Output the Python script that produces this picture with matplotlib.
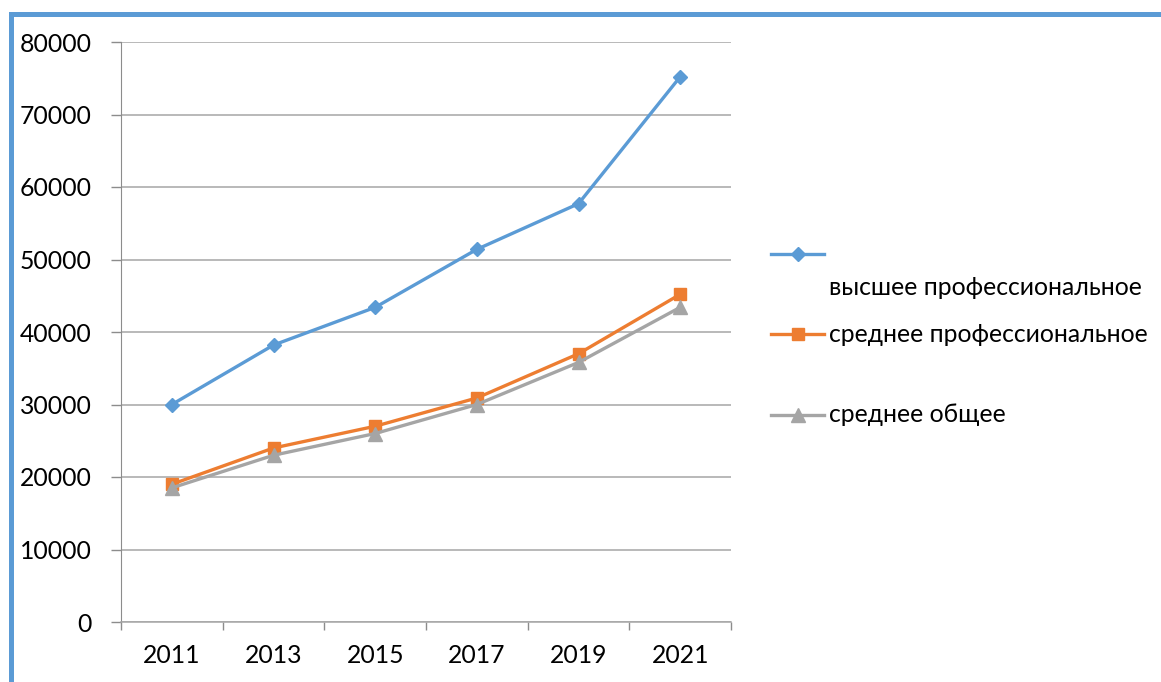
import matplotlib
matplotlib.use("Agg")
import matplotlib.pyplot as plt
from matplotlib.lines import Line2D
import numpy as np

# ── Data ──────────────────────────────────────────────────────────────────────
years = ["2011", "2013", "2015", "2017", "2019", "2021"]
higher_prof = [30000, 38200, 43400, 51400, 57700, 75200]
secondary_prof = [19000, 24000, 27000, 30900, 37000, 45200]
secondary_gen = [18500, 23000, 26000, 30000, 35800, 43400]

labels = ["высшее профессиональное", "среднее профессиональное", "среднее общее"]
colors = ["#5B9BD5", "#ED7D31", "#A5A5A5"]
markers = ["D", "s", "^"]
msizes = [7.5, 9, 9.5]

plt.rcParams["font.family"] = ["Lato", "DejaVu Sans"]
FS = 17.8

W, H = 1161, 682
fig = plt.figure(figsize=(W / 100, H / 100), dpi=100)
ax = fig.add_axes([121 / W, 1 - 622 / H, (731 - 121) / W, (622 - 42) / H])

x = np.arange(len(years))
series = [higher_prof, secondary_prof, secondary_gen]
for vals, c, m, ms in zip(series, colors, markers, msizes):
    ax.plot(x, vals, color=c, lw=2.4, marker=m, ms=ms, mec=c, mfc=c,
            zorder=3, clip_on=False)

# axes styling
ax.set_xlim(-0.5, len(years) - 0.5)
ax.set_ylim(0, 80000)
ax.set_yticks(np.arange(0, 80001, 10000))
ax.set_yticklabels([str(v) for v in range(0, 80001, 10000)], fontsize=FS)
ax.set_xticks(x)
ax.set_xticklabels(years, fontsize=FS)
ax.set_xticks(np.arange(-0.5, len(years)), minor=True)
ax.tick_params(axis="x", which="major", length=0, pad=16)
ax.tick_params(axis="x", which="minor", length=6, width=1, color="#8c8c8c",
               direction="out")
ax.tick_params(axis="y", length=7, width=1, color="#8c8c8c", pad=14)
ax.grid(axis="y", color="#a6a6a6", lw=1.1, zorder=0)
for s in ["top", "right"]:
    ax.spines[s].set_visible(False)
ax.spines["left"].set_color("#8c8c8c")
ax.spines["bottom"].set_color("#a6a6a6")
ax.spines["bottom"].set_linewidth(1.1)

# legend drawn by hand (first label sits below its key, as in the source)
def px(xp, yp):
    return xp / W, 1 - yp / H

key_y = [254, 334, 415]
text_y = [287, 334, 415]
for ky, ty, lab, c, m, ms in zip(key_y, text_y, labels, colors, markers, msizes):
    x0, y0 = px(771, ky)
    x1, _ = px(824, ky)
    fig.add_artist(Line2D([x0, x1], [y0, y0], color=c, lw=2.4,
                          transform=fig.transFigure))
    xm, _ = px(798, ky)
    fig.add_artist(Line2D([xm], [y0], color=c, marker=m, ms=ms, mec=c, mfc=c,
                          transform=fig.transFigure))
    tx, tyf = px(829, ty)
    fig.text(tx, tyf, lab, fontsize=FS, va="center", ha="left")

# blue frame (left and top edges)
fx, fy0 = px(10.5, 682)
_, fy1 = px(10.5, 14)
fig.add_artist(Line2D([fx, fx], [fy0, fy1], color="#5B9BD5", lw=3.6,
                      transform=fig.transFigure, solid_capstyle="projecting"))
fig.add_artist(Line2D([fx, 1], [fy1, fy1], color="#5B9BD5", lw=3.6,
                      transform=fig.transFigure, solid_capstyle="projecting"))

fig.savefig("out.png", dpi=100)
